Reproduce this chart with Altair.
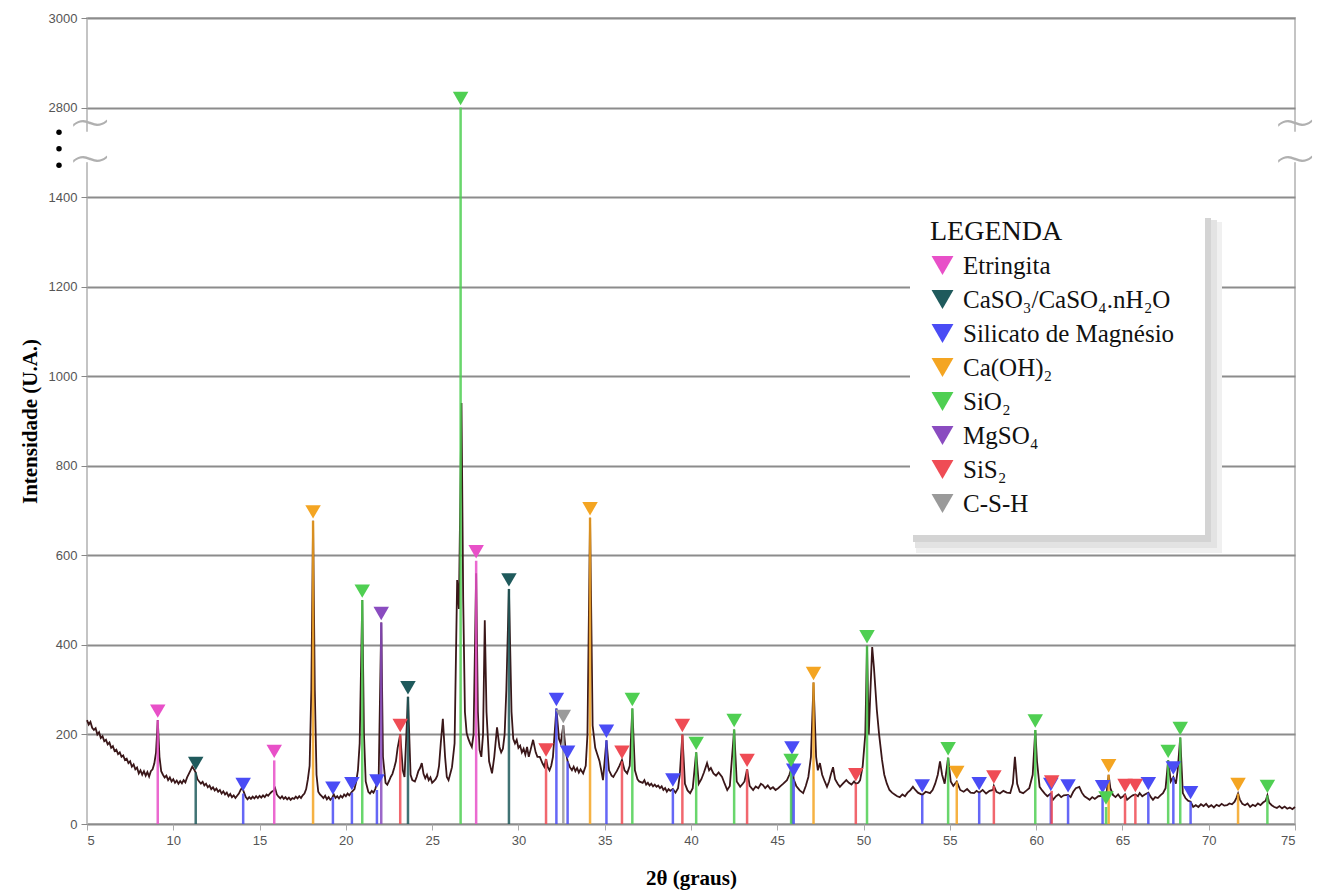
import altair as alt
import pandas as pd

# ---------------- data ----------------
phases = ["Etringita", "CaSO₃/CaSO₄.nH₂O", "Silicato de Magnésio", "Ca(OH)₂",
          "SiO₂", "MgSO₄", "SiS₂", "C-S-H"]
phase_colors = ["#e850c8", "#1f5a5c", "#4a4cf5", "#f4a522",
                "#4fcf52", "#8a4cc0", "#ef4c55", "#9a9a9a"]

etr_x = [9.1, 15.85, 27.55]
etr_h = [232, 142, 588]
cas_x = [11.3, 23.6, 29.45]
cas_h = [115, 284, 525]
sil_x = [14.05, 19.25, 20.35, 21.8, 32.2, 32.85, 35.1, 38.95, 45.85, 45.95,
         53.4, 56.7, 60.85, 61.85, 63.85, 66.5, 67.95, 68.95]
sil_h = [68, 60, 70, 76, 258, 140, 187, 78, 150, 100,
         65, 70, 68, 65, 63, 70, 105, 50]
cao_x = [18.1, 34.15, 47.1, 55.4, 64.2, 71.7]
cao_h = [677, 684, 316, 95, 110, 68]
sio_x = [20.95, 26.65, 36.6, 40.3, 42.5, 45.8, 50.2, 54.9, 59.95, 64.05,
         67.65, 68.35, 73.4]
sio_h = [500, 2800, 258, 160, 211, 122, 398, 148, 210, 38,
         142, 193, 64]
mgs_x = [22.05]
mgs_h = [450]
sis_x = [23.15, 31.6, 36.0, 39.5, 43.25, 49.55, 57.55, 60.9, 65.15, 65.75]
sis_h = [200, 145, 140, 200, 122, 90, 85, 74, 66, 66]
csh_x = [32.6]
csh_h = [220]

bg_x = [5.0, 5.1, 5.2, 5.3, 5.4, 5.5, 5.6, 5.7, 5.8, 5.9, 6.0, 6.1, 6.2, 6.3, 6.4, 6.5, 6.6, 6.7, 6.8, 6.9,
        7.0, 7.1, 7.2, 7.3, 7.4, 7.5, 7.6, 7.7, 7.8, 7.9, 8.0, 8.1, 8.2, 8.3, 8.4, 8.5, 8.6, 8.7, 8.8, 8.9,
        9.0, 9.1, 9.2, 9.3, 9.4, 9.5, 9.6, 9.7, 9.8, 9.9, 10.0, 10.1, 10.2, 10.3, 10.4, 10.5, 10.6, 10.7,
        10.8, 10.9, 11.0, 11.1, 11.2, 11.3, 11.4, 11.5, 11.6, 11.7, 11.8, 11.9, 12.0, 12.1, 12.2, 12.3,
        12.4, 12.5, 12.6, 12.7, 12.8, 12.9, 13.0, 13.1, 13.2, 13.3, 13.4, 13.5, 13.6, 13.7, 13.8, 13.9,
        14.0, 14.1, 14.2, 14.3, 14.4, 14.5, 14.6, 14.7, 14.8, 14.9, 15.0, 15.1, 15.2, 15.3, 15.4, 15.5,
        15.6, 15.7, 15.8, 15.9, 16.0, 16.1, 16.2, 16.3, 16.4, 16.5, 16.6, 16.7, 16.8, 16.9, 17.0, 17.1,
        17.2, 17.3, 17.4, 17.5, 17.6, 17.7, 17.8, 17.9, 18.0, 18.1, 18.2, 18.3, 18.4, 18.5, 18.6, 18.7,
        18.8, 18.9, 19.0, 19.1, 19.2, 19.3, 19.4, 19.5, 19.6, 19.7, 19.8, 19.9, 20.0, 20.1, 20.2, 20.35,
        20.5, 20.6, 20.7, 20.8, 20.95, 21.05, 21.15, 21.3, 21.4, 21.5, 21.6, 21.7, 21.8, 21.9, 22.05,
        22.15, 22.3, 22.4, 22.5, 22.6, 22.7, 22.8, 22.9, 23.0, 23.15, 23.3, 23.4, 23.6, 23.75, 23.85,
        24.0, 24.1, 24.2, 24.3, 24.4, 24.5, 24.6, 24.7, 24.8, 24.9, 25.0, 25.1, 25.2, 25.3, 25.4, 25.5,
        25.62, 25.75, 25.85, 25.95, 26.05, 26.15, 26.3, 26.45, 26.55, 26.7, 26.8, 26.9, 27.0, 27.1,
        27.2, 27.3, 27.4, 27.55, 27.65, 27.75, 27.85, 27.95, 28.05, 28.15, 28.3, 28.47, 28.6, 28.76,
        28.9, 29.0, 29.1, 29.2, 29.3, 29.45, 29.6, 29.7, 29.8, 29.9, 30.0, 30.1, 30.2, 30.3, 30.4, 30.5,
        30.6, 30.7, 30.85, 31.0, 31.1, 31.24, 31.4, 31.5, 31.6, 31.7, 31.8, 31.9, 32.0, 32.2, 32.35,
        32.45, 32.6, 32.75, 32.85, 32.98, 33.1, 33.2, 33.3, 33.4, 33.5, 33.6, 33.75, 33.9, 34.0, 34.15,
        34.3, 34.45, 34.55, 34.7, 34.8, 34.9, 35.1, 35.25, 35.4, 35.5, 35.6, 35.7, 35.85, 36.0, 36.15,
        36.3, 36.45, 36.6, 36.75, 36.9, 37.0, 37.2, 37.3, 37.4, 37.5, 37.6, 37.7, 37.8, 37.9, 38.0,
        38.1, 38.2, 38.3, 38.4, 38.5, 38.6, 38.7, 38.8, 38.95, 39.1, 39.25, 39.35, 39.5, 39.65, 39.8,
        39.95, 40.1, 40.3, 40.45, 40.6, 40.75, 40.93, 41.05, 41.15, 41.3, 41.45, 41.6, 41.8, 41.95,
        42.1, 42.25, 42.5, 42.65, 42.85, 43.0, 43.1, 43.25, 43.4, 43.6, 43.75, 43.9, 44.05, 44.17,
        44.3, 44.45, 44.6, 44.75, 44.9, 45.05, 45.2, 45.35, 45.56, 45.7, 45.8, 45.85, 45.95, 46.1,
        46.3, 46.5, 46.65, 46.8, 46.95, 47.1, 47.25, 47.35, 47.47, 47.6, 47.75, 47.88, 48.0, 48.1,
        48.23, 48.35, 48.5, 48.63, 48.8, 49.0, 49.15, 49.3, 49.45, 49.55, 49.7, 49.8, 49.95, 50.1,
        50.2, 50.3, 50.4, 50.5, 50.6, 50.77, 50.9, 51.07, 51.2, 51.35, 51.5, 51.65, 51.8, 51.95, 52.1,
        52.25, 52.4, 52.55, 52.7, 52.86, 53.0, 53.15, 53.4, 53.6, 53.85, 54.0, 54.15, 54.3, 54.43,
        54.55, 54.7, 54.9, 55.05, 55.2, 55.4, 55.6, 55.8, 56.0, 56.2, 56.4, 56.55, 56.7, 56.9, 57.1,
        57.3, 57.5, 57.55, 57.7, 57.9, 58.1, 58.3, 58.5, 58.65, 58.77, 58.9, 59.05, 59.25, 59.45,
        59.6, 59.8, 59.95, 60.05, 60.2, 60.35, 60.5, 60.65, 60.85, 60.98, 61.15, 61.3, 61.45, 61.6,
        61.85, 62.0, 62.15, 62.3, 62.5, 62.65, 62.8, 62.95, 63.1, 63.25, 63.4, 63.6, 63.85, 64.0,
        64.1, 64.2, 64.3, 64.45, 64.6, 64.75, 64.9, 65.05, 65.15, 65.27, 65.45, 65.6, 65.75, 65.9,
        66.0, 66.15, 66.3, 66.5, 66.65, 66.77, 66.9, 67.05, 67.2, 67.35, 67.5, 67.65, 67.8, 67.95,
        68.1, 68.2, 68.35, 68.5, 68.65, 68.8, 68.95, 69.1, 69.25, 69.4, 69.55, 69.7, 69.85, 70.0,
        70.15, 70.3, 70.45, 70.6, 70.75, 70.9, 71.06, 71.2, 71.35, 71.5, 71.6, 71.7, 71.8, 71.95,
        72.1, 72.25, 72.4, 72.55, 72.7, 72.85, 73.0, 73.15, 73.3, 73.4, 73.5, 73.65, 73.8, 73.95,
        74.1, 74.25, 74.4, 74.55, 74.7, 74.85, 75.0]
bg_y = [232, 222, 228, 215, 210, 214, 200, 205, 192, 196, 185, 188, 178, 182, 170, 174, 163, 166, 156, 160,
        150, 153, 143, 146, 136, 140, 128, 133, 122, 126, 113, 120, 110, 118, 108, 116, 106, 118, 122, 135,
        160, 232, 150, 118, 110, 104, 108, 98, 104, 95, 100, 92, 97, 90, 96, 91, 98, 93,
        104, 112, 120, 128, 122, 115, 100, 95, 90, 94, 86, 90, 82, 86, 78, 82,
        75, 79, 72, 76, 68, 73, 66, 70, 62, 67, 60, 64, 58, 63, 68, 76,
        82, 70, 60, 55, 60, 56, 61, 57, 62, 58, 63, 59, 64, 60, 66, 63,
        68, 72, 74, 80, 66, 61, 57, 62, 56, 60, 55, 59, 54, 58, 56, 61,
        57, 62, 58, 64, 68, 78, 100, 130, 300, 677, 300, 110, 72, 66, 62, 58,
        63, 55, 60, 54, 58, 66, 58, 62, 57, 63, 59, 66, 62, 68, 64, 72,
        78, 95, 120, 180, 500, 200, 95, 72, 68, 74, 70, 78, 90, 100, 450,
        150, 92, 88, 96, 105, 112, 125, 140, 170, 200, 120, 105, 284, 110, 98,
        95, 105, 118, 125, 136, 112, 102, 110, 98, 104, 92, 96, 100, 108, 130, 180,
        235, 150, 105, 98, 112, 127, 180, 545, 480, 940, 500, 250, 203, 190,
        180, 172, 200, 560, 250, 165, 150, 200, 455, 250, 140, 113, 150, 216,
        172, 160, 168, 200, 300, 525, 250, 190, 180, 188, 170, 175, 160, 168, 155, 172,
        150, 165, 188, 160, 150, 150, 135, 128, 145, 127, 120, 130, 150, 258, 190,
        180, 220, 160, 140, 127, 120, 128, 118, 125, 115, 122, 113, 130, 200, 684,
        220, 170, 158, 140, 120, 98, 187, 120, 108, 105, 112, 118, 130, 143, 120,
        113, 130, 258, 120, 100, 95, 92, 98, 88, 92, 86, 90, 84, 88, 83,
        86, 80, 84, 76, 80, 72, 78, 74, 78, 70, 80, 110, 200, 90, 75,
        69, 80, 160, 90, 100, 115, 136, 120, 125, 113, 108, 115, 105, 90,
        76, 85, 211, 95, 83, 90, 95, 122, 85, 76, 84, 80, 90, 87,
        80, 86, 78, 82, 76, 80, 85, 90, 98, 110, 122, 150, 100, 85,
        75, 69, 85, 105, 150, 316, 150, 120, 136, 110, 95, 83, 95, 110,
        127, 100, 90, 83, 90, 98, 92, 88, 95, 90, 92, 98, 130, 200,
        398, 200, 300, 395, 350, 254, 200, 143, 110, 90, 76, 70, 66, 62, 60,
        66, 62, 70, 75, 83, 76, 70, 65, 72, 69, 76, 90, 110, 140,
        110, 90, 148, 95, 85, 95, 76, 72, 78, 70, 69, 74, 70, 76, 68,
        74, 76, 85, 72, 68, 74, 70, 69, 90, 150, 90, 72, 69, 75,
        80, 110, 210, 140, 83, 75, 68, 62, 68, 54, 62, 66, 60, 64,
        65, 60, 72, 80, 83, 70, 62, 58, 54, 60, 56, 62, 63, 60,
        75, 110, 80, 65, 60, 66, 58, 62, 66, 54, 60, 64, 66, 62,
        69, 62, 66, 70, 60, 54, 60, 58, 64, 69, 80, 142, 95, 105,
        90, 120, 193, 69, 58, 52, 50, 38, 42, 38, 44, 40, 45, 38,
        42, 37, 43, 40, 45, 41, 42, 46, 44, 50, 58, 68, 55, 45,
        42, 46, 38, 43, 40, 46, 42, 48, 52, 64, 48, 42, 38, 36,
        40, 35, 39, 34, 37, 33, 38]

y_tick_values = [0, 200, 400, 600, 800, 1000, 1200, 1400, 1600, 1800]
x_tick_values = [5, 10, 15, 20, 25, 30, 35, 40, 45, 50, 55, 60, 65, 70, 75]
break_y = [1553, 1471]
dots_y = [1545, 1508, 1471]
gap_lo = [1478]
gap_hi = [1546]

# ---------------- tables ----------------
rows = []
for name, xs, hs in zip(phases,
                        [etr_x, cas_x, sil_x, cao_x, sio_x, mgs_x, sis_x, csh_x],
                        [etr_h, cas_h, sil_h, cao_h, sio_h, mgs_h, sis_h, csh_h]):
    for x, h in zip(xs, hs):
        rows.append({"fase": name, "x": x, "h": h, "base": 0})
peaks = pd.DataFrame(rows)
bg = pd.DataFrame({"x": bg_x, "y": bg_y})
breaks = pd.DataFrame({"y": break_y})
dots = pd.DataFrame({"y": dots_y})
gap = pd.DataFrame({"lo": gap_lo, "hi": gap_hi})

# display axis: 0..1400 linear, then 2800 -> 1600, 3000 -> 1800 (broken axis)
disp = "datum.h > 1500 ? datum.h - 1200 : datum.h"

xscale = alt.Scale(domain=[5, 75], nice=False, zero=False)
yscale = alt.Scale(domain=[0, 1800], nice=False)
color_scale = alt.Scale(domain=phases, range=phase_colors)

label_expr = "datum.value == 1600 ? '2800' : (datum.value == 1800 ? '3000' : '' + datum.value)"

legend = alt.Legend(title="LEGENDA", orient="none", legendX=838, legendY=195,
                    symbolType="triangle-down", symbolSize=480,
                    symbolStrokeWidth=0, symbolOpacity=1,
                    titleFont="Liberation Serif", titleFontSize=28,
                    titleFontWeight="normal", titleColor="#111",
                    titlePadding=7,
                    labelFont="Liberation Serif", labelFontSize=25,
                    labelColor="#111", labelLimit=400, labelOffset=8,
                    rowPadding=8, padding=5,
                    fillColor="transparent", strokeColor="transparent")

curve = alt.Chart(bg).mark_line(color="#3a1719", strokeWidth=1.8).encode(
    x=alt.X("x:Q", scale=xscale,
            axis=alt.Axis(values=x_tick_values, title="2θ (graus)", grid=False,
                          labelColor="#555", labelFont="Liberation Sans", labelFontSize=13,
                          tickColor="#aaa", tickSize=6, domain=False,
                          titleFont="Liberation Serif", titleFontSize=21, titleFontWeight="bold",
                          titleColor="#000", titlePadding=20, labelPadding=4)),
    y=alt.Y("y:Q", scale=yscale,
            axis=alt.Axis(values=y_tick_values, labelExpr=label_expr, title="Intensidade (U.A.)",
                          grid=True, gridColor="#8c8c8c", gridWidth=2,
                          labelColor="#555", labelFont="Liberation Sans", labelFontSize=13,
                          tickColor="#888", tickSize=6, domain=False, labelPadding=4,
                          titleFont="Liberation Serif", titleFontSize=21, titleFontWeight="bold",
                          titleColor="#000", titlePadding=8)),
)

lines = alt.Chart(peaks).transform_calculate(yd=disp).mark_rule(strokeWidth=2.5, opacity=0.85).encode(
    x=alt.X("x:Q", scale=xscale),
    y=alt.Y("base:Q", scale=yscale),
    y2=alt.Y2("yd:Q"),
    color=alt.Color("fase:N", scale=color_scale, sort=phases, legend=legend),
)

markers = alt.Chart(peaks).transform_calculate(yd=disp).mark_point(
    shape="triangle-down", filled=True, size=240, opacity=1, yOffset=-9
).encode(
    x=alt.X("x:Q", scale=xscale),
    y=alt.Y("yd:Q", scale=yscale),
    color=alt.Color("fase:N", scale=color_scale, sort=phases, legend=legend),
)

# legend box with its soft shadow
shadow_outer = alt.Chart(gap).mark_rect(color="#f0f0f0", opacity=1).encode(
    x=alt.value(829), x2=alt.value(1135), y=alt.value(204), y2=alt.value(535)
)
shadow_mid = alt.Chart(gap).mark_rect(color="#e3e3e3", opacity=1).encode(
    x=alt.value(828), x2=alt.value(1130), y=alt.value(202), y2=alt.value(530)
)
shadow_inner = alt.Chart(gap).mark_rect(color="#d4d4d4", opacity=1).encode(
    x=alt.value(826), x2=alt.value(1124), y=alt.value(200), y2=alt.value(524)
)
box = alt.Chart(gap).mark_rect(color="white", opacity=1).encode(
    x=alt.value(823), x2=alt.value(1118), y=alt.value(197), y2=alt.value(517)
)

# axis-break symbols
gap_cover = alt.Chart(gap).mark_rule(color="white", strokeWidth=5).encode(
    x=alt.value(0), y=alt.Y("lo:Q", scale=yscale), y2=alt.Y2("hi:Q")
)
gap_cover_r = alt.Chart(gap).mark_rule(color="white", strokeWidth=5).encode(
    x=alt.value(1208), y=alt.Y("lo:Q", scale=yscale), y2=alt.Y2("hi:Q")
)
tilde_l = alt.Chart(breaks).mark_text(text="~", fontSize=54, color="#b0b0b0",
                                      font="DejaVu Sans", fontWeight=200, dy=-5).encode(
    x=alt.value(3), y=alt.Y("y:Q", scale=yscale))
tilde_r = alt.Chart(breaks).mark_text(text="~", fontSize=54, color="#b0b0b0",
                                      font="DejaVu Sans", fontWeight=200, dy=-5).encode(
    x=alt.value(1208), y=alt.Y("y:Q", scale=yscale))
dot_marks = alt.Chart(dots).mark_point(filled=True, color="#000", size=30, shape="circle",
                                       opacity=1).encode(
    x=alt.value(-28), y=alt.Y("y:Q", scale=yscale))

chart = alt.layer(
    curve, lines, markers, shadow_outer, shadow_mid, shadow_inner, box,
    gap_cover, gap_cover_r, tilde_l, tilde_r, dot_marks
).properties(
    width=1208, height=806,
    autosize=alt.AutoSizeParams(type="none"),
    padding={"left": 79, "top": 10, "right": 20, "bottom": 70},
    background="white",
).configure_view(
    stroke="#c4c4c4", strokeWidth=2
)

chart.save("out.html", embed_options={"renderer": "svg", "actions": False})
